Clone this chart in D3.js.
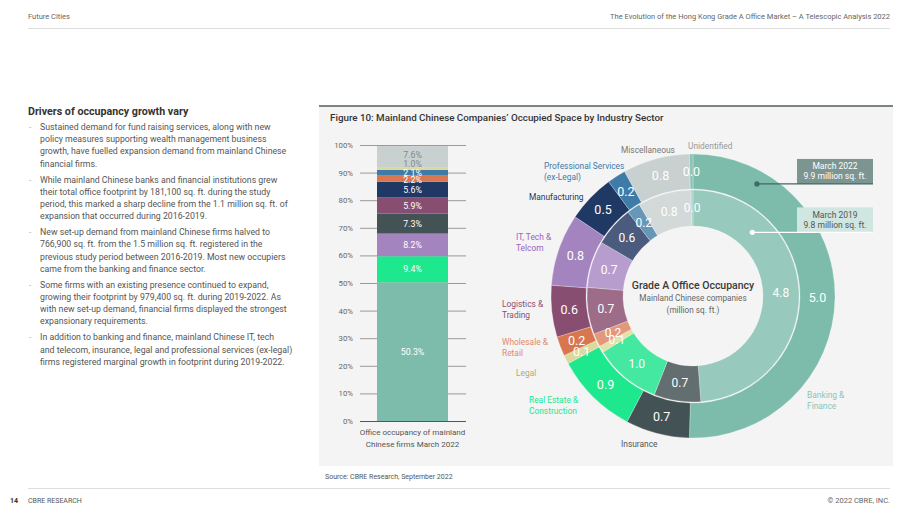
<!doctype html>
<html lang="en">
<head>
<meta charset="utf-8">
<title>Mainland Chinese Companies' Occupied Space by Industry Sector</title>
<style>
  html, body { margin: 0; padding: 0; background: #fff; }
  svg { display: block; font-family: Roboto, "Noto Sans", sans-serif; }
</style>
</head>
<body>
<div id="page"></div>
<script src="https://cdn.jsdelivr.net/npm/d3@7"></script>
<script>
// ---- data ----
var sectors = ["Banking & Finance", "Insurance", "Real Estate & Construction", "Legal",
  "Wholesale & Retail", "Logistics & Trading", "IT, Tech & Telcom", "Manufacturing",
  "Professional Services (ex-Legal)", "Miscellaneous", "Unidentified"];
var space2022 = [4.98, 0.72, 0.93, 0.10, 0.22, 0.58, 0.81, 0.54, 0.21, 0.75, 0.04];   // million sq. ft.
var space2019 = [4.8, 0.7, 1.0, 0.1, 0.2, 0.7, 0.7, 0.6, 0.2, 0.8, 0.03];

// stacked bar, bottom to top
var barSectors = ["Banking & Finance", "Real Estate & Construction", "IT, Tech & Telcom", "Insurance",
  "Logistics & Trading", "Manufacturing", "Wholesale & Retail", "Professional Services (ex-Legal)",
  "Legal", "Miscellaneous"];
var barShares = [50.3, 9.4, 8.2, 7.3, 5.9, 5.6, 2.2, 2.1, 1.0, 7.6];
var yTicks = [0, 10, 20, 30, 40, 50, 60, 70, 80, 90, 100];
var barCategory = ["Office occupancy of mainland", "Chinese firms March 2022"];

var totals = [
  {key: "2022", lines: ["March 2022", "9.9 million sq. ft."]},
  {key: "2019", lines: ["March 2019", "9.8 million sq. ft."]}
];

var bullets = [
  ["Sustained demand for fund raising services, along with new",
   "policy measures supporting wealth management business",
   "growth, have fuelled expansion demand from mainland Chinese",
   "financial firms."],
  ["While mainland Chinese banks and financial institutions grew",
   "their total office footprint by 181,100 sq. ft. during the study",
   "period, this marked a sharp decline from the 1.1 million sq. ft. of",
   "expansion that occurred during 2016-2019."],
  ["New set-up demand from mainland Chinese firms halved to",
   "766,900 sq. ft. from the 1.5 million sq. ft. registered in the",
   "previous study period between 2016-2019. Most new occupiers",
   "came from the banking and finance sector."],
  ["Some firms with an existing presence continued to expand,",
   "growing their footprint by 979,400 sq. ft. during 2019-2022. As",
   "with new set-up demand, financial firms displayed the strongest",
   "expansionary requirements."],
  ["In addition to banking and finance, mainland Chinese IT, tech",
   "and telecom, insurance, legal and professional services (ex-legal)",
   "firms registered marginal growth in footprint during 2019-2022."]
];

// ---- styles ----
var colOuter = {
  "Banking & Finance": "#7dbbab", "Insurance": "#435254", "Real Estate & Construction": "#1ee88d",
  "Legal": "#dcda9b", "Wholesale & Retail": "#d8764f", "Logistics & Trading": "#884e72",
  "IT, Tech & Telcom": "#a384bf", "Manufacturing": "#1f3864", "Professional Services (ex-Legal)": "#3f7ba8",
  "Miscellaneous": "#c9d0d0", "Unidentified": "#8cc4b6"
};
var colInner = {
  "Banking & Finance": "#98c9bd", "Insurance": "#626e6f", "Real Estate & Construction": "#45e8a1",
  "Legal": "#e3e0a8", "Wholesale & Retail": "#e3987c", "Logistics & Trading": "#9c6c89",
  "IT, Tech & Telcom": "#b79dcd", "Manufacturing": "#4b5b7e", "Professional Services (ex-Legal)": "#6797b8",
  "Miscellaneous": "#d3d9d9", "Unidentified": "#a8d3c8"
};
var labelStyle = {
  "Banking & Finance": {lines: ["Banking &", "Finance"], color: "#8cc4b6", off: [114, 102]},
  "Insurance": {lines: ["Insurance"], color: "#555", off: [-72, 151]},
  "Real Estate & Construction": {lines: ["Real Estate &", "Construction"], color: "#1ee88d", off: [-164, 107]},
  "Legal": {lines: ["Legal"], color: "#b0ac6a", off: [-177, 80]},
  "Wholesale & Retail": {lines: ["Wholesale &", "Retail"], color: "#e08a6a", off: [-191, 49]},
  "Logistics & Trading": {lines: ["Logistics &", "Trading"], color: "#8a4f72", off: [-191, 11]},
  "IT, Tech & Telcom": {lines: ["IT, Tech &", "Telcom"], color: "#9a62c2", off: [-177, -56]},
  "Manufacturing": {lines: ["Manufacturing"], color: "#1f3864", off: [-164, -96]},
  "Professional Services (ex-Legal)": {lines: ["Professional Services", "(ex-Legal)"], color: "#3f7ba8", off: [-149, -127]},
  "Miscellaneous": {lines: ["Miscellaneous"], color: "#777", off: [-72, -143]},
  "Unidentified": {lines: ["Unidentified"], color: "#999", off: [-5, -147]}
};
// small nudges for the crowded bar labels (in % units)
var barLabelNudge = {"Legal": 1.6, "Wholesale & Retail": -0.3, "Miscellaneous": 0.6};

var W = 920, H = 518;
var svg = d3.select("#page").append("svg").attr("width", W).attr("height", H);

// ---- page header / footer ----
svg.append("text").attr("x", 28).attr("y", 19).text("Future Cities")
  .style("font-size", "7.5px").attr("fill", "#666");
svg.append("text").attr("x", 890).attr("y", 19).attr("text-anchor", "end")
  .text("The Evolution of the Hong Kong Grade A Office Market \u2013 A Telescopic Analysis 2022")
  .style("font-size", "7.5px").attr("fill", "#666");
svg.append("line").attr("x1", 28).attr("x2", 890).attr("y1", 28.5).attr("y2", 28.5).attr("stroke", "#ddd");

svg.append("line").attr("x1", 28).attr("x2", 890).attr("y1", 488.5).attr("y2", 488.5).attr("stroke", "#ddd");
svg.append("text").attr("x", 10).attr("y", 503).text("14")
  .style("font-size", "7px").style("font-weight", "bold").attr("fill", "#333");
svg.append("text").attr("x", 28).attr("y", 503).text("CBRE RESEARCH")
  .style("font-size", "7px").attr("fill", "#555");
svg.append("text").attr("x", 890).attr("y", 503).attr("text-anchor", "end").text("\u00a9 2022 CBRE, INC.")
  .style("font-size", "7.5px").attr("fill", "#666");

// ---- left text column ----
svg.append("text").attr("x", 28).attr("y", 115).text("Drivers of occupancy growth vary")
  .style("font-size", "10.7px").style("font-weight", "bold").attr("fill", "#333");

var by = 130;
bullets.forEach(function(lines) {
  svg.append("text").attr("x", 29).attr("y", by).text("-")
    .style("font-size", "8.5px").attr("fill", "#bbb");
  lines.forEach(function(l, i) {
    svg.append("text").attr("x", 40).attr("y", by + i * 12.2).text(l)
      .style("font-size", "8.75px").attr("fill", "#555");
  });
  by += lines.length * 12.2 + 3.8;
});

// ---- figure panel ----
svg.append("rect").attr("x", 319).attr("y", 106).attr("width", 574).attr("height", 360).attr("fill", "#f4f4f4");
svg.append("line").attr("x1", 319).attr("x2", 893).attr("y1", 106).attr("y2", 106)
  .attr("stroke", "#4f5d5d").attr("stroke-width", 1.6);
svg.append("text").attr("x", 330).attr("y", 121)
  .text("Figure 10: Mainland Chinese Companies\u2019 Occupied Space by Industry Sector")
  .style("font-size", "9.8px").style("font-weight", 500).attr("fill", "#333");
svg.append("text").attr("x", 325).attr("y", 479).text("Source: CBRE Research, September 2022")
  .style("font-size", "7px").attr("fill", "#555");

// ---- stacked bar ----
var y = d3.scaleLinear().domain([0, 100]).range([421, 145]);
var x = d3.scaleBand().domain(["2022"]).range([377, 448]).padding(0);

var gBar = svg.append("g");
gBar.selectAll("line.grid").data(yTicks).enter().append("line")
  .attr("class", "grid")
  .attr("x1", x.range()[0] - 17).attr("x2", x.range()[1] + 18)
  .attr("y1", function(d) { return y(d) + 0.5; }).attr("y2", function(d) { return y(d) + 0.5; })
  .attr("stroke", function(d) { return d === 0 ? "#555" : "#999"; })
  .attr("stroke-width", function(d) { return d === 0 ? 1.2 : 1; });
gBar.selectAll("text.tick").data(yTicks).enter().append("text")
  .attr("class", "tick")
  .attr("x", x.range()[0] - 24).attr("y", function(d) { return y(d) + 3; })
  .attr("text-anchor", "end")
  .text(function(d) { return d + "%"; })
  .style("font-size", "7.8px").attr("fill", "#666");

var stack = [];
var acc = 0;
barShares.forEach(function(v, i) {
  stack.push({sector: barSectors[i], v: v, y0: acc, y1: acc + v});
  acc += v;
});
gBar.selectAll("rect.seg").data(stack).enter().append("rect")
  .attr("class", "seg")
  .attr("x", x("2022")).attr("width", x.bandwidth())
  .attr("y", function(d) { return y(d.y1); })
  .attr("height", function(d) { return y(d.y0) - y(d.y1); })
  .attr("fill", function(d) { return colOuter[d.sector]; });
gBar.selectAll("text.val").data(stack).enter().append("text")
  .attr("class", "val")
  .attr("x", x("2022") + x.bandwidth() / 2)
  .attr("y", function(d) { return y((d.y0 + d.y1) / 2 + (barLabelNudge[d.sector] || 0)) + 3.2; })
  .attr("text-anchor", "middle")
  .text(function(d) { return d.v.toFixed(1) + "%"; })
  .style("font-size", "8.8px")
  .attr("fill", function(d) { return (d.sector === "Miscellaneous" || d.sector === "Legal") ? "#888" : "#fff"; });
barCategory.forEach(function(l, i) {
  gBar.append("text").attr("x", x("2022") + x.bandwidth() / 2).attr("y", 435 + i * 11.5)
    .attr("text-anchor", "middle").text(l).style("font-size", "8px").attr("fill", "#555");
});

// ---- double donut ----
var cx = 693, cy = 296;
var g = svg.append("g").attr("transform", "translate(" + cx + "," + cy + ")");
var pie = d3.pie().sort(null).value(function(d) { return d.v; });
var fmt = d3.format(".1f");

var rings = [
  {values: space2019, inner: 70, outer: 106, colors: colInner, size: "12px"},
  {values: space2022, inner: 107, outer: 142, colors: colOuter, size: "12.5px"}
];
rings.forEach(function(ring) {
  var data = pie(ring.values.map(function(v, i) { return {sector: sectors[i], v: v}; }));
  var arc = d3.arc().innerRadius(ring.inner).outerRadius(ring.outer);
  g.append("g").selectAll("path").data(data).enter().append("path")
    .attr("d", arc)
    .attr("fill", function(d) { return ring.colors[d.data.sector]; })
    .attr("stroke", "rgba(255,255,255,0.35)").attr("stroke-width", 0.7);
  g.append("g").selectAll("text").data(data).enter().append("text")
    .attr("transform", function(d) { return "translate(" + arc.centroid(d) + ")"; })
    .attr("dy", "0.36em").attr("text-anchor", "middle")
    .text(function(d) { return fmt(d.data.v); })
    .style("font-size", ring.size).attr("fill", "#fff");
});

// sector names around the outside
sectors.forEach(function(s) {
  var st = labelStyle[s];
  var t = g.append("text").attr("x", st.off[0]).attr("y", st.off[1])
    .style("font-size", "8.4px").attr("fill", st.color);
  st.lines.forEach(function(l, i) {
    t.append("tspan").attr("x", st.off[0]).attr("dy", i === 0 ? 0 : 11.2).text(l);
  });
});

// centre caption
g.append("text").attr("y", -7).attr("text-anchor", "middle").text("Grade A Office Occupancy")
  .style("font-size", "10.5px").style("font-weight", 500).attr("fill", "#3a3a3a");
g.append("text").attr("y", 5).attr("text-anchor", "middle").text("Mainland Chinese companies")
  .style("font-size", "8.2px").attr("fill", "#666");
g.append("text").attr("y", 17).attr("text-anchor", "middle").text("(million sq. ft.)")
  .style("font-size", "8.2px").attr("fill", "#666");

// total call-outs
var callouts = [
  {t: totals[0], angle: 29.7, r: 129, box: "#7d9591", text: "#fff", line: "#3e6b63", dot: "#3e6b63"},
  {t: totals[1], angle: 43, r: 87, box: "#d0e6e0", text: "#555", line: "#fff", dot: "#fff"}
];
callouts.forEach(function(c) {
  var p = d3.pointRadial(c.angle * Math.PI / 180, c.r);
  var bx0 = 104, bx1 = 180, bh = 25;
  g.append("rect").attr("x", bx0).attr("y", p[1] - bh).attr("width", bx1 - bx0).attr("height", bh)
    .attr("fill", c.box);
  g.append("line").attr("x1", p[0]).attr("x2", bx1).attr("y1", p[1]).attr("y2", p[1])
    .attr("stroke", c.line).attr("stroke-width", 1.3);
  g.append("circle").attr("cx", p[0]).attr("cy", p[1]).attr("r", 2.6).attr("fill", c.dot);
  c.t.lines.forEach(function(l, i) {
    g.append("text").attr("x", (bx0 + bx1) / 2).attr("y", p[1] - bh + 10.5 + i * 10)
      .attr("text-anchor", "middle").text(l).style("font-size", "8.5px").attr("fill", c.text);
  });
});
</script>
</body>
</html>
